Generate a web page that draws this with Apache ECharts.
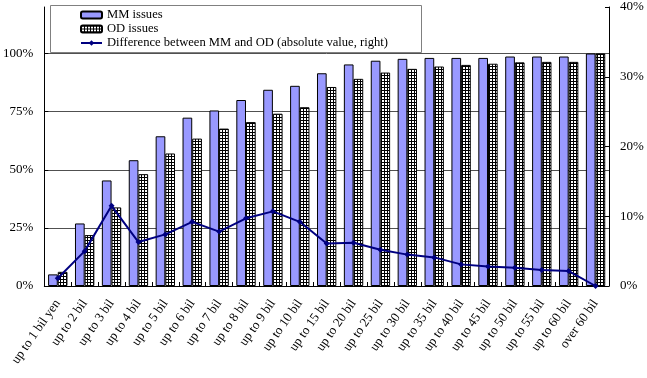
<!DOCTYPE html>
<html><head><meta charset="utf-8">
<script src="https://cdn.jsdelivr.net/npm/echarts@6/dist/echarts.min.js"></script>
<style>html,body{margin:0;padding:0;background:#fff}#c{width:647px;height:378px}</style>
</head><body><div id="c"></div>
<script>
const categories = ['up to 1 bil yen','up to 2 bil','up to 3 bil','up to 4 bil','up to 5 bil','up to 6 bil','up to 7 bil','up to 8 bil','up to 9 bil','up to 10 bil','up to 15 bil','up to 20 bil','up to 25 bil','up to 30 bil','up to 35 bil','up to 40 bil','up to 45 bil','up to 50 bil','up to 55 bil','up to 60 bil','over 60 bil'];
const mmIssues = [5.0,26.9,45.4,54.1,64.4,72.4,75.5,80.0,84.4,86.1,91.5,95.3,96.9,97.7,98.1,98.1,98.1,98.7,98.7,98.7,100];
const odIssues = [6.1,21.9,33.8,48.1,57.0,63.4,67.7,70.5,74.1,76.9,85.6,89.1,91.8,93.4,94.4,95.1,95.6,96.2,96.4,96.4,100];
const difference = [1.1,5.0,11.5,6.3,7.4,9.2,7.8,9.7,10.7,9.2,6.1,6.2,5.2,4.5,4.1,3.1,2.8,2.6,2.3,2.15,0];
const leftTicks = {min:0, max:120, interval:25};
const rightTicks = {min:0, max:40, interval:10};

const pc = document.createElement('canvas');
pc.width = 3; pc.height = 3;
const g = pc.getContext('2d');
g.fillStyle = '#fff'; g.fillRect(0,0,3,3);
g.fillStyle = '#000'; g.fillRect(0,0,3,1); g.fillRect(0,0,1,3);

const FONT = 'Liberation Serif';
const chart = echarts.init(document.getElementById('c'), null, {renderer:'canvas'});
chart.setOption({
  animation:false,
  textStyle:{fontFamily:FONT},
  graphic:[{type:'rect', left:50, top:5, shape:{width:371, height:47}, style:{fill:'#fff', stroke:'#808080', lineWidth:1}, z:50}],
  legend:{
    orient:'vertical', left:80, top:8, padding:0, itemGap:0, itemWidth:21, itemHeight:7, z:60,
    textStyle:{fontFamily:FONT, fontSize:12.6, color:'#000', lineHeight:14},
    data:['MM issues','OD issues','Difference between MM and OD (absolute value, right)']
  },
  grid:{left:44, right:38, top:7, bottom:92},
  xAxis:{
    type:'category', data:categories,
    axisLine:{lineStyle:{color:'#000', width:1}},
    axisTick:{show:true, inside:true, length:4, interval:0, lineStyle:{color:'#000'}},
    axisLabel:{interval:0, rotate:55, fontFamily:FONT, fontSize:13, color:'#000', margin:15}
  },
  yAxis:[
    {type:'value', min:leftTicks.min, max:leftTicks.max, interval:leftTicks.interval,
     axisLine:{show:true, lineStyle:{color:'#000'}}, axisTick:{show:true, inside:true, length:4, lineStyle:{color:'#000'}},
     axisLabel:{formatter:'{value}%', fontFamily:FONT, fontSize:13, color:'#000', margin:11, showMaxLabel:false},
     splitLine:{show:true, showMaxLine:false, lineStyle:{color:'#505050', width:1}}},
    {type:'value', min:rightTicks.min, max:rightTicks.max, interval:rightTicks.interval, position:'right',
     axisLine:{show:true, lineStyle:{color:'#000'}}, axisTick:{show:true, inside:true, length:4, lineStyle:{color:'#000'}},
     axisLabel:{formatter:'{value}%', fontFamily:FONT, fontSize:13, color:'#000', margin:11},
     splitLine:{show:false}}
  ],
  series:[
    {name:'MM issues', type:'bar', data:mmIssues, barWidth:'36%', barGap:'0%',
     itemStyle:{color:'#9999FF', borderColor:'#000', borderWidth:1}},
    {name:'OD issues', type:'bar', data:odIssues, barWidth:'36%', barGap:'0%',
     itemStyle:{color:{image:pc, repeat:'repeat'}, borderColor:'#000', borderWidth:1}},
    {name:'Difference between MM and OD (absolute value, right)', type:'line', yAxisIndex:1, data:difference,
     symbol:'diamond', symbolSize:6, z:5,
     lineStyle:{color:'#000080', width:2}, itemStyle:{color:'#000080'}}
  ]
});
</script></body></html>
